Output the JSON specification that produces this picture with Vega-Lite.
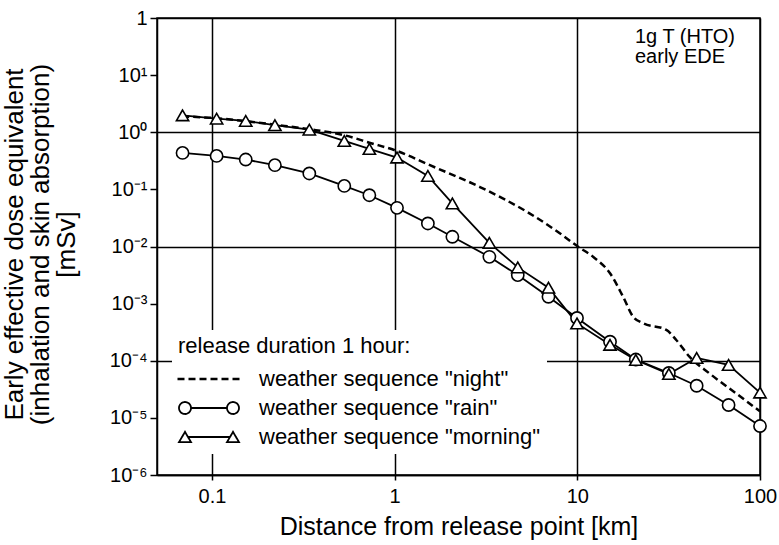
{
  "$schema": "https://vega.github.io/schema/vega-lite/v6.json",
  "width": 603,
  "height": 457,
  "autosize": {"type": "none"},
  "padding": {"left": 157, "top": 18, "right": 19, "bottom": 70},
  "background": "white",
  "config": {
    "font": "Liberation Sans",
    "view": {"stroke": "black", "strokeWidth": 1.5},
    "axis": {
      "domainColor": "black", "domainWidth": 1.5,
      "tickColor": "black", "tickWidth": 1.5,
      "gridColor": "black", "gridWidth": 1.5,
      "labelColor": "black", "titleColor": "black",
      "titleFontWeight": "normal", "labelFont": "Liberation Sans", "titleFont": "Liberation Sans"
    }
  },
  "title": {
    "text": ["1g T (HTO)", "early EDE"],
    "orient": "top", "anchor": "end", "frame": "group", "align": "left",
    "dx": -125, "offset": -59,
    "fontSize": 20, "fontWeight": "normal", "lineHeight": 20, "color": "black", "font": "Liberation Sans"
  },
  "data": {"values": [
    {"series": "night", "distance": 0.0687, "dose": 1.9},
    {"series": "night", "distance": 0.106, "dose": 1.76},
    {"series": "night", "distance": 0.154, "dose": 1.56},
    {"series": "night", "distance": 0.222, "dose": 1.35},
    {"series": "night", "distance": 0.341, "dose": 1.13},
    {"series": "night", "distance": 0.53, "dose": 0.886},
    {"series": "night", "distance": 0.735, "dose": 0.65},
    {"series": "night", "distance": 1.03, "dose": 0.47},
    {"series": "night", "distance": 1.56, "dose": 0.265},
    {"series": "night", "distance": 2.93, "dose": 0.11},
    {"series": "night", "distance": 5.5, "dose": 0.0377},
    {"series": "night", "distance": 8.05, "dose": 0.0169},
    {"series": "night", "distance": 10.1, "dose": 0.0099},
    {"series": "night", "distance": 12.2, "dose": 0.0066},
    {"series": "night", "distance": 15.1, "dose": 0.0034},
    {"series": "night", "distance": 17.8, "dose": 0.00132},
    {"series": "night", "distance": 20.2, "dose": 0.00059},
    {"series": "night", "distance": 22.9, "dose": 0.000454},
    {"series": "night", "distance": 30.7, "dose": 0.000347},
    {"series": "night", "distance": 34.8, "dose": 0.000231},
    {"series": "night", "distance": 41.1, "dose": 0.000118},
    {"series": "night", "distance": 52.9, "dose": 0.00006},
    {"series": "night", "distance": 73.8, "dose": 0.000027},
    {"series": "night", "distance": 100, "dose": 0.000013},
    {"series": "rain", "distance": 0.069, "dose": 0.435},
    {"series": "rain", "distance": 0.106, "dose": 0.385},
    {"series": "rain", "distance": 0.153, "dose": 0.333},
    {"series": "rain", "distance": 0.221, "dose": 0.265},
    {"series": "rain", "distance": 0.341, "dose": 0.19},
    {"series": "rain", "distance": 0.53, "dose": 0.115},
    {"series": "rain", "distance": 0.727, "dose": 0.079},
    {"series": "rain", "distance": 1.03, "dose": 0.0475},
    {"series": "rain", "distance": 1.52, "dose": 0.0253},
    {"series": "rain", "distance": 2.07, "dose": 0.0148},
    {"series": "rain", "distance": 3.3, "dose": 0.0066},
    {"series": "rain", "distance": 4.72, "dose": 0.00316},
    {"series": "rain", "distance": 6.95, "dose": 0.00132},
    {"series": "rain", "distance": 9.96, "dose": 0.00056},
    {"series": "rain", "distance": 15.1, "dose": 0.000215},
    {"series": "rain", "distance": 20.9, "dose": 0.000105},
    {"series": "rain", "distance": 31.7, "dose": 0.000061},
    {"series": "rain", "distance": 45, "dose": 0.0000365},
    {"series": "rain", "distance": 67.3, "dose": 0.0000168},
    {"series": "rain", "distance": 100, "dose": 0.0000072},
    {"series": "morning", "distance": 0.069, "dose": 1.98},
    {"series": "morning", "distance": 0.106, "dose": 1.73},
    {"series": "morning", "distance": 0.153, "dose": 1.58},
    {"series": "morning", "distance": 0.221, "dose": 1.33},
    {"series": "morning", "distance": 0.341, "dose": 1.11},
    {"series": "morning", "distance": 0.53, "dose": 0.705},
    {"series": "morning", "distance": 0.727, "dose": 0.51},
    {"series": "morning", "distance": 1.03, "dose": 0.361},
    {"series": "morning", "distance": 1.52, "dose": 0.172},
    {"series": "morning", "distance": 2.07, "dose": 0.0567},
    {"series": "morning", "distance": 3.3, "dose": 0.0116},
    {"series": "morning", "distance": 4.72, "dose": 0.00431},
    {"series": "morning", "distance": 6.95, "dose": 0.0019},
    {"series": "morning", "distance": 9.96, "dose": 0.00045},
    {"series": "morning", "distance": 15.1, "dose": 0.00019},
    {"series": "morning", "distance": 20.9, "dose": 0.000103},
    {"series": "morning", "distance": 31.7, "dose": 0.0000587},
    {"series": "morning", "distance": 45, "dose": 0.000112},
    {"series": "morning", "distance": 67.3, "dose": 0.0000845},
    {"series": "morning", "distance": 100, "dose": 0.0000277}
  ]},
  "encoding": {
    "x": {
      "field": "distance", "type": "quantitative",
      "scale": {"type": "log", "domain": [0.05, 100], "nice": false},
      "axis": {
        "title": "Distance from release point  [km]",
        "values": [0.1, 1, 10, 100],
        "labelExpr": "datum.value < 1 ? '0.1' : format(datum.value, 'd')",
        "grid": true, "tickSize": 5, "labelPadding": 6, "labelFontSize": 20,
        "titleFontSize": 25, "titlePadding": 8, "labelFlush": false, "labelOverlap": false
      }
    },
    "y": {
      "field": "dose", "type": "quantitative",
      "scale": {"type": "log", "domain": [0.000001, 100], "nice": false},
      "axis": {
        "title": ["Early effective dose equivalent", "(inhalation and skin absorption)", "[mSv]"],
        "values": [0.000001, 0.00001, 0.0001, 0.001, 0.01, 0.1, 1, 10, 100],
        "labelExpr": "datum.value >= 99 ? '1' : '10' + ['⁻⁶','⁻⁵','⁻⁴','⁻³','⁻²','⁻¹','⁰','¹'][round(log(datum.value)/LN10) + 6]",
        "grid": true,
        "gridOpacity": {"condition": {"test": "round(log(datum.value)/LN10) % 2 === 0", "value": 1}, "value": 0},
        "tickSize": 7, "labelPadding": 3, "labelFontSize": 20,
        "titleFontSize": 26, "titleLineHeight": 26, "titleX": -130, "titleY": 226,
        "labelFlush": false, "labelOverlap": false
      }
    }
  },
  "layer": [
    {
      "transform": [{"filter": "datum.series === 'night'"}],
      "mark": {"type": "line", "interpolate": "monotone", "color": "black", "strokeWidth": 2.5},
      "encoding": {
        "strokeDash": {
          "field": "series", "type": "nominal",
          "scale": {"domain": ["night", "rain", "morning"], "range": [[7, 4], [1, 0], [1, 0]]},
          "legend": {
            "title": "release duration 1 hour:",
            "orient": "none", "legendX": 15, "legendY": 312,
            "fillColor": "white", "padding": 6,
            "titleFontSize": 22, "titleFontWeight": "normal", "titleColor": "black", "titlePadding": 10, "titleFont": "Liberation Sans", "titleLimit": 500,
            "labelFontSize": 22, "labelColor": "black", "labelOffset": 39, "labelFont": "Liberation Sans", "labelLimit": 500,
            "symbolSize": 3600, "symbolOffset": 20, "symbolStrokeWidth": 1.8, "symbolStrokeColor": "black", "symbolFillColor": "white",
            "rowPadding": 7,
            "labelExpr": "'weather sequence \"' + datum.label + '\"'",
            "encode": {
              "symbols": {
                "update": {
                  "shape": {"signal": "datum.value === 'night' ? 'M-1.05,0L1.05,0' : datum.value === 'rain' ? 'M-0.6,0L0.6,0M-0.6,0A0.2,0.2,0,1,1,-1,0A0.2,0.2,0,1,1,-0.6,0ZM1,0A0.2,0.2,0,1,1,0.6,0A0.2,0.2,0,1,1,1,0Z' : 'M-0.7,0L0.7,0M-0.8,-0.17L-0.6,0.17L-1,0.17ZM0.8,-0.17L1,0.17L0.6,0.17Z'"},
                  "strokeDash": {"signal": "datum.value === 'night' ? [7,4] : [1,0]"},
                  "fill": {"value": "white"},
                  "stroke": {"value": "black"},
                  "strokeWidth": {"signal": "datum.value === 'night' ? 2.5 : 1.8"}
                }
              }
            }
          }
        }
      }
    },
    {
      "transform": [{"filter": "datum.series === 'rain'"}],
      "mark": {"type": "line", "color": "black", "strokeWidth": 1.8}
    },
    {
      "transform": [{"filter": "datum.series === 'morning'"}],
      "mark": {"type": "line", "color": "black", "strokeWidth": 1.8}
    },
    {
      "transform": [{"filter": "datum.series === 'rain'"}],
      "mark": {"type": "point", "shape": "circle", "filled": true, "fill": "white", "stroke": "black", "strokeWidth": 1.6, "size": 150, "opacity": 1}
    },
    {
      "transform": [{"filter": "datum.series === 'morning'"}],
      "mark": {"type": "point", "shape": "triangle-up", "filled": true, "fill": "white", "stroke": "black", "strokeWidth": 1.6, "size": 150, "opacity": 1}
    }
  ]
}
